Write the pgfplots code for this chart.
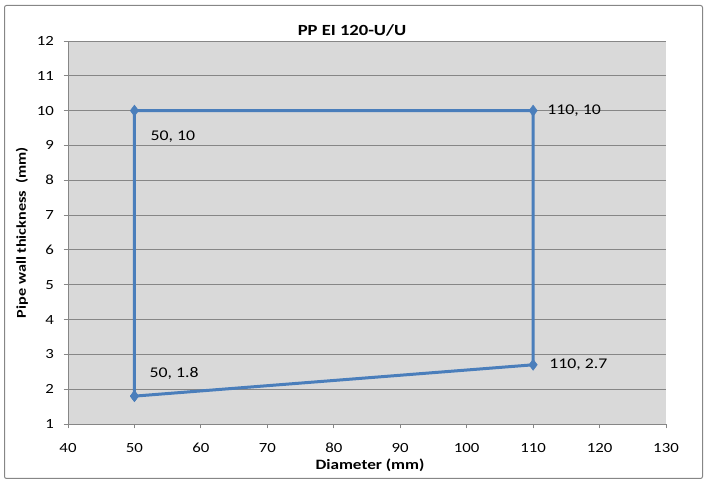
\documentclass[border=0pt]{standalone}
\usepackage{fontspec}
\setmainfont{Carlito}[FakeStretch=1.2]
\usepackage{pgfplots}
\pgfplotsset{compat=1.18}
\definecolor{plotbg}{HTML}{D9D9D9}
\definecolor{gridc}{HTML}{868686}
\definecolor{series}{HTML}{4A7EBB}
\begin{document}
\begin{tikzpicture}[x=1bp,y=1bp]
\path[use as bounding box] (0,0) rectangle (708,484);
\draw[gridc, line width=1bp, rounded corners=2bp] (4.5,5.5) rectangle (702.5,478.5);
\begin{axis}[
  at={(68bp,60bp)}, anchor=south west,
  scale only axis, width=598bp, height=383bp,
  xmin=40, xmax=130, ymin=1, ymax=12,
  xtick={40,50,...,130}, ytick={1,2,...,12},
  axis background/.style={fill=plotbg},
  ymajorgrids, grid style={gridc, line width=0.9bp},
  axis x line*=bottom, axis y line*=left,
  axis line style={-, gridc, line width=0.9bp},
  tick align=outside, major tick length=4.5bp,
  tick style={gridc, line width=0.9bp},
  /pgf/number format/assume math mode=true,
  ticklabel style={font=\fontsize{14bp}{16bp}\selectfont, text=black},
  yticklabel style={xshift=-6bp},
  xticklabel style={yshift=-11bp},
  title={\bfseries PP EI 120-U/U},
  title style={at={([xshift=-15bp]axis description cs:0.5,1)}, anchor=center, yshift=5bp, font=\fontsize{15.5bp}{17bp}\selectfont},
  xlabel={\bfseries Diameter (mm)},
  xlabel style={at={([xshift=3bp]axis description cs:0.5,0)}, anchor=center, yshift=-41bp, font=\fontsize{14.3bp}{16bp}\selectfont},
  ylabel={\bfseries Pipe wall thickness\ \ (mm)},
  ylabel style={at={([xshift=-46bp]axis description cs:0,0.5)}, anchor=center, font=\fontsize{13.5bp}{15bp}\selectfont},
  clip=false,
]
\addplot[series, line width=3bp, mark=diamond*, mark size=5.5bp, mark options={solid, fill=series, line width=0.5bp}]
  coordinates {(50,1.8) (50,10) (110,10) (110,2.7) (50,1.8)};
\node[anchor=west, inner sep=0pt, xshift=16bp, yshift=-26bp, font=\fontsize{14.8bp}{16bp}\selectfont] at (axis cs:50,10) {50, 10};
\node[anchor=west, inner sep=0pt, xshift=14bp, font=\fontsize{14.8bp}{16bp}\selectfont] at (axis cs:110,10) {110, 10};
\node[anchor=west, inner sep=0pt, xshift=15bp, yshift=23bp, font=\fontsize{14.8bp}{16bp}\selectfont] at (axis cs:50,1.8) {50, 1.8};
\node[anchor=west, inner sep=0pt, xshift=16bp, font=\fontsize{14.8bp}{16bp}\selectfont] at (axis cs:110,2.7) {110, 2.7};
\end{axis}
\end{tikzpicture}
\end{document}
